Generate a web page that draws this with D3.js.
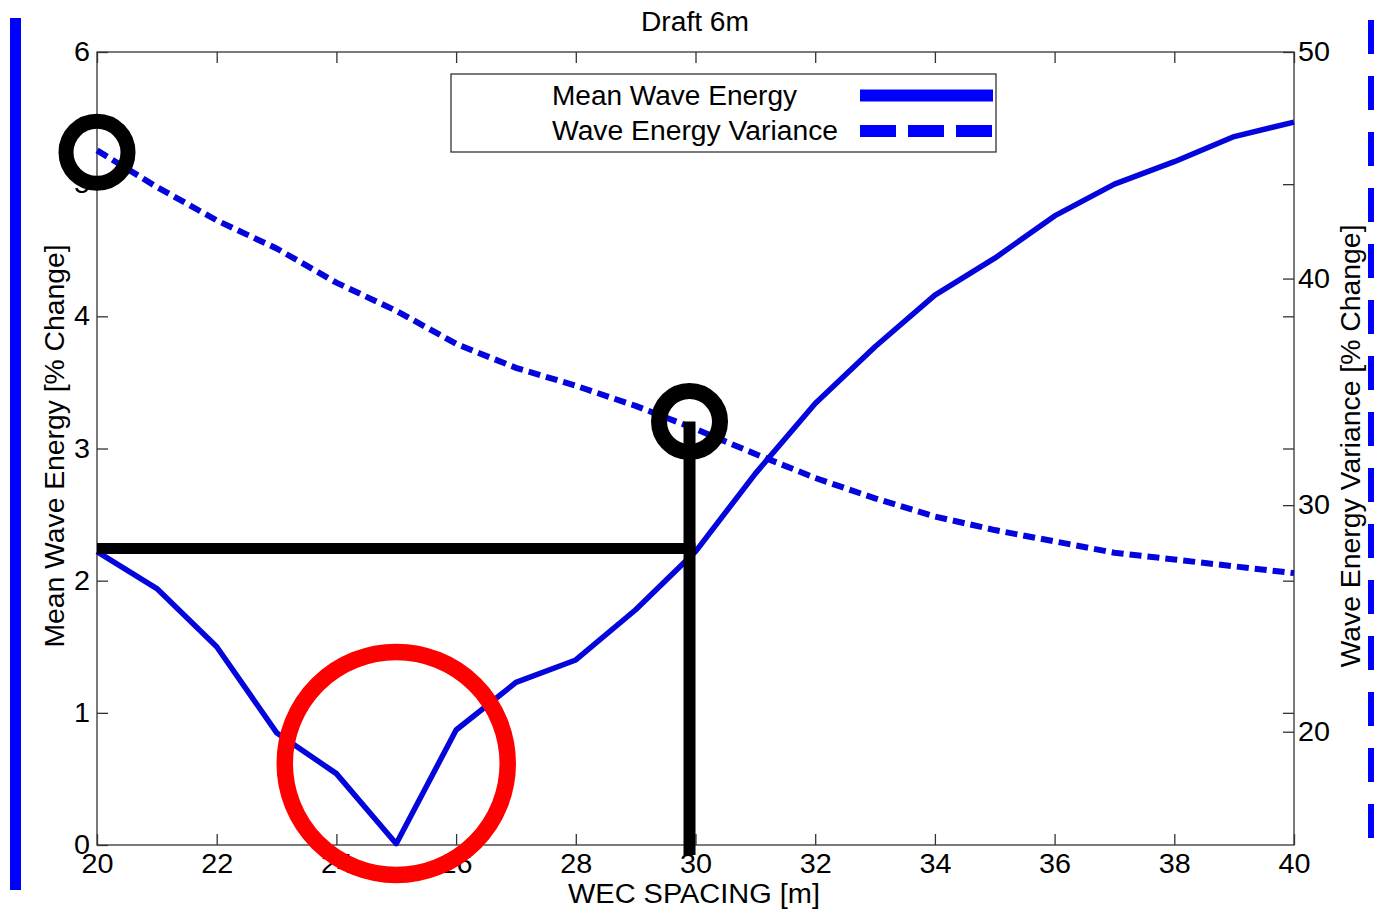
<!DOCTYPE html>
<html>
<head>
<meta charset="utf-8">
<script src="https://cdn.jsdelivr.net/npm/d3@7"></script>
<style>
  html, body { margin: 0; padding: 0; background: #fff; }
  svg { display: block; font-family: "Liberation Sans", Arial, Helvetica, sans-serif; }
</style>
</head>
<body>
<svg id="chart" width="1374" height="911"></svg>
<script>
// ---- data ----
const spacing = [20,21,22,23,24,25,26,27,28,29,30,31,32,33,34,35,36,37,38,39,40];
const meanEnergy = [2.22,1.94,1.50,0.85,0.54,0.01,0.87,1.23,1.40,1.78,2.22,2.81,3.34,3.77,4.16,4.44,4.76,5.00,5.17,5.36,5.47];
const energyVariance = [45.66,44.04,42.57,41.33,39.82,38.58,37.12,36.06,35.27,34.38,33.36,32.26,31.2,30.3,29.5,28.9,28.4,27.9,27.6,27.3,27.0];
const xTicks = [20,22,24,26,28,30,32,34,36,38,40];
const leftTicks = [0,1,2,3,4,5,6];
const rightTicks = [20,30,40,50];
const seriesNames = ["Mean Wave Energy", "Wave Energy Variance"];
const titleText = "Draft 6m";
const xLabel = "WEC SPACING [m]";
const leftLabel = "Mean Wave Energy [% Change]";
const rightLabel = "Wave Energy Variance [% Change]";
// annotation anchors (data coords)
const markX = 29.9, markVar = 33.6, markMean = 2.243;
const redMark = {x: 25, y: 0.617};

const svg = d3.select("#chart");
const L = 97, R = 1294, T = 52, B = 845;
const blue = "#0404dc";
const axisCol = "#333";
const fs = 27;

const x = d3.scaleLinear().domain([20,40]).range([L,R]);
const yL = d3.scaleLinear().domain([0,6]).range([B,T]);
const yR = d3.scaleLinear().domain([15,50]).range([B,T]);

// decorative side bars
svg.append("line").attr("x1",15.5).attr("x2",15.5).attr("y1",18).attr("y2",890)
  .attr("stroke","#0000ff").attr("stroke-width",11);
svg.append("line").attr("x1",1371).attr("x2",1371).attr("y1",20).attr("y2",856)
  .attr("stroke","#0000ff").attr("stroke-width",6).attr("stroke-dasharray","34,22");

// box
svg.append("rect").attr("x",L).attr("y",T).attr("width",R-L).attr("height",B-T)
  .attr("fill","none").attr("stroke",axisCol).attr("stroke-width",1.3);

const tickLen = 11;
const xAxisB = d3.axisBottom(x).tickValues(xTicks).tickSize(-tickLen).tickPadding(11).tickFormat(d3.format("d"));
const gxb = svg.append("g").attr("transform",`translate(0,${B})`).call(xAxisB);
const xAxisT = d3.axisTop(x).tickValues(xTicks).tickSize(-tickLen).tickFormat("");
const gxt = svg.append("g").attr("transform",`translate(0,${T})`).call(xAxisT);
const yAxisL = d3.axisLeft(yL).tickValues(leftTicks).tickSize(-tickLen).tickPadding(7).tickFormat(d3.format("d"));
const gyl = svg.append("g").attr("transform",`translate(${L},0)`).call(yAxisL);
const gylr = svg.append("g").attr("transform",`translate(${R},0)`)
  .call(d3.axisRight(yL).tickValues(leftTicks.slice(1,-1)).tickSize(-tickLen).tickFormat(""));
const yAxisR = d3.axisRight(yR).tickValues(rightTicks).tickSize(-tickLen).tickPadding(4).tickFormat(d3.format("d"));
const gyr = svg.append("g").attr("transform",`translate(${R},0)`).call(yAxisR);

[gxb,gxt,gyl,gylr,gyr].forEach(g => {
  g.select(".domain").remove();
  g.selectAll(".tick line").attr("stroke",axisCol).attr("stroke-width",1.3);
  g.selectAll("text").attr("font-size",fs).attr("fill","#000").attr("font-family",null)
    .attr("textLength",d => String(d).length*16).attr("lengthAdjust","spacingAndGlyphs");
});
gxb.selectAll("text").attr("dy","0.62em");

// lines
const lineL = d3.line().x((d,i)=>x(spacing[i])).y(d=>yL(d));
const lineR = d3.line().x((d,i)=>x(spacing[i])).y(d=>yR(d));
svg.append("path").datum(energyVariance).attr("d",lineR).attr("fill","none")
  .attr("stroke",blue).attr("stroke-width",6).attr("stroke-dasharray","12,6");
svg.append("path").datum(meanEnergy).attr("d",lineL).attr("fill","none")
  .attr("stroke",blue).attr("stroke-width",5.5).attr("stroke-linejoin","round");

// title & labels
function label(txt, len) {
  return svg.append("text").attr("text-anchor","middle").attr("font-size",fs)
    .attr("textLength",len).attr("lengthAdjust","spacingAndGlyphs").text(txt);
}
label(titleText,108).attr("x",695).attr("y",31);
label(xLabel,252).attr("x",694).attr("y",903);
label(leftLabel,403).attr("transform","translate(64,446) rotate(-90)");
label(rightLabel,443).attr("transform","translate(1360,446) rotate(-90)");

// legend
const lg = svg.append("g");
lg.append("rect").attr("x",451).attr("y",74).attr("width",545).attr("height",78)
  .attr("fill","#fff").attr("stroke",axisCol).attr("stroke-width",1.3);
const rows = [{y:95.5, dash:null, len:245},{y:131, dash:"36,12", len:286}];
rows.forEach((r,i)=>{
  lg.append("text").attr("x",552).attr("y",r.y+9).attr("font-size",fs)
    .attr("textLength",r.len).attr("lengthAdjust","spacingAndGlyphs").text(seriesNames[i]);
  const ln = lg.append("line").attr("x1",860).attr("x2",993).attr("y1",r.y).attr("y2",r.y)
    .attr("stroke","#0000ff").attr("stroke-width",12);
  if (r.dash) ln.attr("stroke-dasharray",r.dash);
});

// annotations
svg.append("circle").attr("cx",x(spacing[0])).attr("cy",yR(energyVariance[0])+2).attr("r",31)
  .attr("fill","none").attr("stroke","#000").attr("stroke-width",15);
svg.append("circle").attr("cx",x(markX)).attr("cy",yR(markVar)-2).attr("r",30.5)
  .attr("fill","none").attr("stroke","#000").attr("stroke-width",16);
svg.append("line").attr("x1",x(20)).attr("x2",x(markX)+6).attr("y1",yL(markMean)).attr("y2",yL(markMean))
  .attr("stroke","#000").attr("stroke-width",11);
svg.append("line").attr("x1",x(markX)).attr("x2",x(markX)).attr("y1",yR(markVar)-2).attr("y2",B+10)
  .attr("stroke","#000").attr("stroke-width",12);
svg.append("circle").attr("cx",x(redMark.x)).attr("cy",yL(redMark.y)).attr("r",111.5)
  .attr("fill","none").attr("stroke","#ff0000").attr("stroke-width",16.5);
</script>
</body>
</html>
